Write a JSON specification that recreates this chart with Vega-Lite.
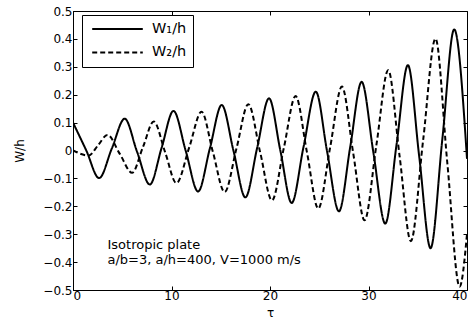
{
  "$schema": "https://vega.github.io/schema/vega-lite/v6.json",
  "width": 394,
  "height": 279,
  "autosize": {"type": "none"},
  "padding": {"left": 73, "top": 11, "right": 5, "bottom": 30},
  "background": "white",
  "config": {
    "view": {"stroke": "black", "strokeWidth": 1},
    "font": "DejaVu Sans",
    "axis": {
      "domainColor": "black", "tickColor": "black", "labelColor": "black", "titleColor": "black",
      "grid": false, "labelFont": "DejaVu Sans", "labelFontSize": 12, "titleFont": "DejaVu Sans",
      "titleFontSize": 12, "titleFontWeight": "normal", "tickSize": -4, "domainWidth": 1, "tickWidth": 1
    }
  },
  "data": {
    "values": [
      {"t": 0, "v": 0.100, "s": "W₁/h"}, {"t": 1.35, "v": 0.0, "s": "W₁/h"}, {"t": 2.65, "v": -0.099, "s": "W₁/h"},
      {"t": 3.95, "v": 0.008, "s": "W₁/h"}, {"t": 5.25, "v": 0.114, "s": "W₁/h"}, {"t": 6.5, "v": -0.004, "s": "W₁/h"},
      {"t": 7.8, "v": -0.122, "s": "W₁/h"}, {"t": 9.0, "v": 0.01, "s": "W₁/h"}, {"t": 10.2, "v": 0.142, "s": "W₁/h"},
      {"t": 11.45, "v": -0.002, "s": "W₁/h"}, {"t": 12.7, "v": -0.147, "s": "W₁/h"}, {"t": 13.9, "v": 0.008, "s": "W₁/h"},
      {"t": 15.1, "v": 0.163, "s": "W₁/h"}, {"t": 16.3, "v": -0.002, "s": "W₁/h"}, {"t": 17.5, "v": -0.168, "s": "W₁/h"},
      {"t": 18.7, "v": 0.01, "s": "W₁/h"}, {"t": 19.9, "v": 0.187, "s": "W₁/h"}, {"t": 21.05, "v": 0.0, "s": "W₁/h"},
      {"t": 22.2, "v": -0.188, "s": "W₁/h"}, {"t": 23.4, "v": 0.012, "s": "W₁/h"}, {"t": 24.65, "v": 0.211, "s": "W₁/h"},
      {"t": 25.8, "v": -0.004, "s": "W₁/h"}, {"t": 27.0, "v": -0.218, "s": "W₁/h"}, {"t": 28.15, "v": 0.014, "s": "W₁/h"},
      {"t": 29.3, "v": 0.246, "s": "W₁/h"}, {"t": 30.5, "v": -0.008, "s": "W₁/h"}, {"t": 31.7, "v": -0.262, "s": "W₁/h"},
      {"t": 32.85, "v": 0.022, "s": "W₁/h"}, {"t": 34.0, "v": 0.306, "s": "W₁/h"}, {"t": 35.15, "v": -0.022, "s": "W₁/h"},
      {"t": 36.3, "v": -0.35, "s": "W₁/h"}, {"t": 37.5, "v": 0.042, "s": "W₁/h"}, {"t": 38.7, "v": 0.434, "s": "W₁/h"},
      {"t": 40, "v": -0.03, "s": "W₁/h"},
      {"t": 0, "v": 0.0, "s": "W₂/h"}, {"t": 1.6, "v": -0.018, "s": "W₂/h"}, {"t": 2.55, "v": 0.019, "s": "W₂/h"},
      {"t": 3.5, "v": 0.056, "s": "W₂/h"}, {"t": 4.75, "v": -0.012, "s": "W₂/h"}, {"t": 6.0, "v": -0.08, "s": "W₂/h"},
      {"t": 7.1, "v": 0.012, "s": "W₂/h"}, {"t": 8.2, "v": 0.104, "s": "W₂/h"}, {"t": 9.35, "v": -0.006, "s": "W₂/h"},
      {"t": 10.5, "v": -0.117, "s": "W₂/h"}, {"t": 11.8, "v": 0.011, "s": "W₂/h"}, {"t": 13.05, "v": 0.139, "s": "W₂/h"},
      {"t": 14.2, "v": -0.005, "s": "W₂/h"}, {"t": 15.4, "v": -0.149, "s": "W₂/h"}, {"t": 16.6, "v": 0.008, "s": "W₂/h"},
      {"t": 17.8, "v": 0.166, "s": "W₂/h"}, {"t": 19.0, "v": -0.006, "s": "W₂/h"}, {"t": 20.2, "v": -0.179, "s": "W₂/h"},
      {"t": 21.4, "v": 0.008, "s": "W₂/h"}, {"t": 22.6, "v": 0.195, "s": "W₂/h"}, {"t": 23.75, "v": -0.006, "s": "W₂/h"},
      {"t": 24.9, "v": -0.208, "s": "W₂/h"}, {"t": 26.1, "v": 0.01, "s": "W₂/h"}, {"t": 27.3, "v": 0.229, "s": "W₂/h"},
      {"t": 28.45, "v": -0.01, "s": "W₂/h"}, {"t": 29.6, "v": -0.25, "s": "W₂/h"}, {"t": 30.8, "v": 0.019, "s": "W₂/h"},
      {"t": 32.0, "v": 0.288, "s": "W₂/h"}, {"t": 33.15, "v": -0.018, "s": "W₂/h"}, {"t": 34.3, "v": -0.325, "s": "W₂/h"},
      {"t": 35.55, "v": 0.038, "s": "W₂/h"}, {"t": 36.8, "v": 0.401, "s": "W₂/h"}, {"t": 38.0, "v": -0.044, "s": "W₂/h"},
      {"t": 39.25, "v": -0.488, "s": "W₂/h"}, {"t": 40, "v": -0.3, "s": "W₂/h"}
    ]
  },
  "layer": [
    {
      "mark": {"type": "line", "color": "black", "strokeWidth": 2, "interpolate": "monotone", "clip": true},
      "encoding": {
        "x": {
          "field": "t", "type": "quantitative",
          "scale": {"domain": [0, 40], "nice": false, "zero": false},
          "axis": {"orient": "bottom", "values": [0, 10, 20, 30, 40], "title": "τ", "labelPadding": 4, "titlePadding": 6}
        },
        "y": {
          "field": "v", "type": "quantitative",
          "scale": {"domain": [-0.5, 0.5], "nice": false},
          "axis": {
            "orient": "left", "values": [-0.5, -0.4, -0.3, -0.2, -0.1, 0, 0.1, 0.2, 0.3, 0.4, 0.5],
            "format": ".1~f", "title": "W/h", "labelPadding": 5,
            "titleX": -54, "titleY": 139.5, "titleBaseline": "middle"
          }
        },
        "strokeDash": {
          "field": "s", "type": "nominal",
          "scale": {"domain": ["W₁/h", "W₂/h"], "range": [[1, 0], [5, 3]]},
          "legend": {
            "orient": "none", "legendX": 9, "legendY": 4, "title": null,
            "strokeColor": "black", "fillColor": "white", "padding": 6,
            "symbolType": "stroke", "symbolSize": 2560, "symbolStrokeWidth": 2, "symbolStrokeColor": "black",
            "symbolOffset": 3, "clipHeight": 16,
            "labelFont": "DejaVu Sans", "labelFontSize": 14.5, "labelColor": "black", "labelOffset": 8, "rowPadding": 7.4
          }
        }
      }
    },
    {
      "data": {"values": [{}]},
      "mark": {
        "type": "text", "text": ["Isotropic plate", "a/b=3, a/h=400, V=1000 m/s"],
        "align": "left", "baseline": "alphabetic", "font": "DejaVu Sans", "fontSize": 13, "lineHeight": 14.5, "color": "black"
      },
      "encoding": {
        "x": {"datum": 3.5, "type": "quantitative", "axis": {"orient": "top", "values": [0, 10, 20, 30, 40], "labels": false, "title": null, "domain": false}},
        "y": {"datum": -0.354, "type": "quantitative", "axis": {"orient": "right", "values": [-0.5, -0.4, -0.3, -0.2, -0.1, 0, 0.1, 0.2, 0.3, 0.4, 0.5], "labels": false, "title": null, "domain": false}}
      }
    }
  ],
  "resolve": {"axis": {"x": "independent", "y": "independent"}}
}
